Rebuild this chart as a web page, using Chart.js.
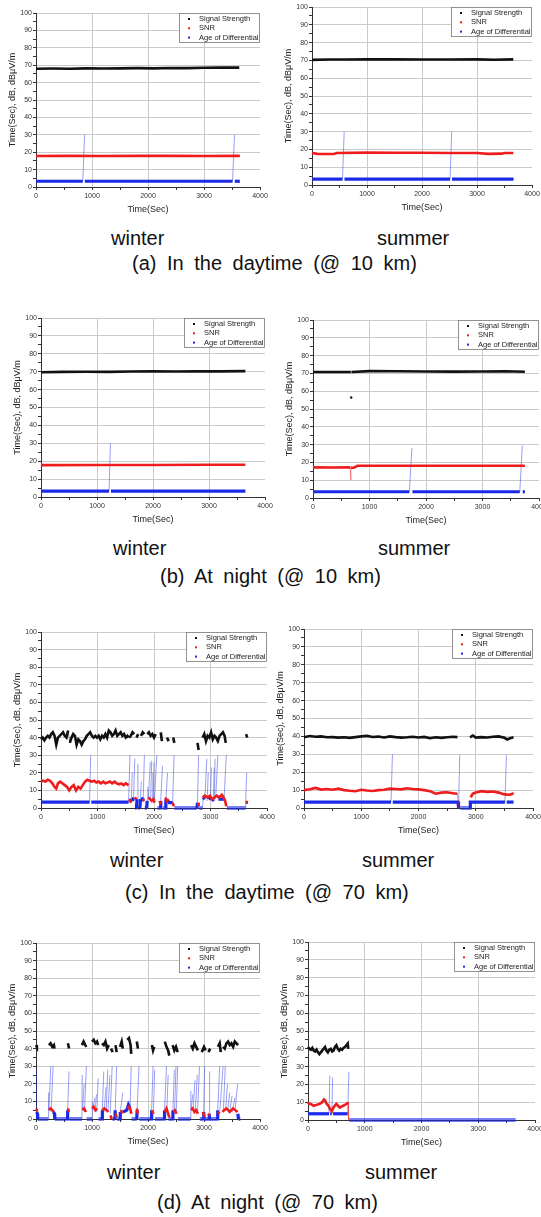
<!DOCTYPE html>
<html>
<head>
<meta charset="utf-8">
<script src="https://cdn.jsdelivr.net/npm/chart.js@4.4.1/dist/chart.umd.min.js"></script>
<style>
  html, body { margin: 0; padding: 0; background: #fff; }
  body { width: 541px; height: 1217px; position: relative; overflow: hidden; font-family: 'Liberation Sans', Arial, sans-serif; }
  canvas { position: absolute; }
  .lbl { position: absolute; font-size: 20px; line-height: 20px; white-space: nowrap; color: #111; }
  .cap { word-spacing: 5px; }
</style>
</head>
<body>
<div class="lbl" style="left:111px;top:228px">winter</div>
<div class="lbl" style="left:377px;top:228px">summer</div>
<div class="lbl cap" style="left:132px;top:253px">(a) In the daytime (@ 10 km)</div>
<div class="lbl" style="left:113px;top:538px">winter</div>
<div class="lbl" style="left:378px;top:538px">summer</div>
<div class="lbl cap" style="left:160px;top:566px">(b) At night (@ 10 km)</div>
<div class="lbl" style="left:110px;top:850px">winter</div>
<div class="lbl" style="left:362px;top:850px">summer</div>
<div class="lbl cap" style="left:125px;top:882px">(c) In the daytime (@ 70 km)</div>
<div class="lbl" style="left:107px;top:1162px">winter</div>
<div class="lbl" style="left:365px;top:1162px">summer</div>
<div class="lbl cap" style="left:157px;top:1192px">(d) At night (@ 70 km)</div>
<script>
"use strict"

var seriesNames = ['Signal Strength', 'SNR', 'Age of Differential']
var seriesColors = ['#111111', '#ee1c1c', '#1a2ae8']
var timeTicks = [0, 1000, 2000, 3000, 4000]
var levelTicks = [0, 10, 20, 30, 40, 50, 60, 70, 80, 90, 100]

// (a) daytime 10 km, winter
var aWinterSignal = [[0,68.0],[300,68.1],[600,68.0],[900,68.2],[1200,68.1],[1500,68.2],[1800,68.3],[2100,68.2],[2400,68.4],[2700,68.3],[3000,68.5],[3300,68.7],[3630,68.6]]
var aWinterSnr = [[0,17.8],[600,17.9],[1200,17.8],[1800,17.9],[2400,17.9],[3000,17.8],[3640,17.9]]
var aWinterAge = [[0,3.3],[835,3.3],[868,30],[869,null],[872,3.3],[3510,3.3],[3545,30],[3546,null],[3550,3.3],[3640,3.3]]
// (a) daytime 10 km, summer
var aSummerSignal = [[0,70.3],[300,70.5],[600,70.5],[1000,70.6],[1500,70.6],[2000,70.5],[2500,70.5],[3000,70.6],[3300,70.4],[3660,70.6]]
var aSummerSnr = [[0,18.0],[100,17.5],[400,17.4],[450,18.0],[1000,18.2],[1500,18.1],[2000,18.1],[2500,18.0],[3000,18.0],[3200,17.5],[3450,17.6],[3500,18.0],[3660,18.0]]
var aSummerAge = [[0,3.3],[555,3.3],[585,30],[586,null],[590,3.3],[2510,3.3],[2540,30],[2541,null],[2546,3.3],[3665,3.3]]
// (b) night 10 km, winter
var bWinterSignal = [[0,69.7],[400,69.9],[800,70.0],[1200,69.9],[1600,70.1],[2000,70.2],[2400,70.1],[2800,70.2],[3200,70.2],[3650,70.3]]
var bWinterSnr = [[0,17.8],[1000,17.9],[2000,17.9],[3000,18.0],[3650,18.0]]
var bWinterAge = [[0,3.3],[1215,3.3],[1240,30],[1241,null],[1250,3.3],[3650,3.3]]
// (b) night 10 km, summer
var bSummerSignal = [[0,70.8],[400,70.8],[670,70.8],[672,null],[676,56.5],[678,null],[680,70.8],[1000,71.3],[1500,71.2],[2000,71.1],[2500,71.0],[3000,71.1],[3400,71.2],[3750,70.9]]
var bSummerSnr = [[0,17.2],[300,17.1],[660,17.2],[668,10.1],[672,17.0],[720,17.0],[790,18.1],[1200,18.1],[2000,18.1],[3000,18.1],[3750,18.1]]
var bSummerAge = [[0,3.5],[1705,3.5],[1750,28],[1751,null],[1760,3.5],[3660,3.5],[3705,29.5],[3706,null],[3712,3.5],[3750,3.5]]
// (c) daytime 70 km, winter
var cWinterSignal = [[0,39],[30,40],[60,38.5],[90,40],[120,41],[150,40],[180,42],[210,43],[240,41],[270,36],[300,40],[330,41],[360,42],[390,43],[420,41],[450,40],[480,44],[510,37],[540,40],[570,42],[600,41],[630,36],[660,39],[690,38],[720,36],[750,38],[780,39],[810,41],[840,42],[870,43],[900,41],[930,40],[960,41],[990,40],[1020,41],[1050,39],[1080,41],[1110,40],[1140,42],[1170,40],[1200,44],[1230,43],[1260,41],[1290,42],[1320,44],[1350,41],[1380,42],[1410,43],[1440,41],[1470,42],[1500,40],[1530,41],[1550,40],[1551,null],
  [1560,40],[1590,41],[1620,43],[1650,42],[1660,null],[1690,40],[1720,42],[1730,null],[1770,41],[1800,43],[1830,42],[1840,null],[1880,42],[1910,43],[1940,41],[1970,42],[2000,40],[2030,42],[2050,null],[2120,43],[2140,38],[2150,null],[2230,40],[2260,38],[2270,null],[2340,40],[2360,37],[2370,null],[2770,37],[2790,33],[2800,null],[2860,40],[2890,42],[2920,38],[2950,41],[2980,40],[3010,43],[3040,39],[3070,41],[3100,40],[3130,38],[3160,41],[3190,42],[3220,43],[3250,41],[3270,37],[3280,null],[3630,42],[3650,40]]
var cWinterSnr = [[0,15],[40,15.5],[80,15],[120,16],[160,15.5],[200,14],[240,12],[270,11],[300,14],[340,15],[380,14],[420,13],[460,12],[500,10],[540,12],[580,13],[620,10],[660,12],[700,11],[740,13],[780,15],[820,16],[860,15.5],[900,15],[940,15.5],[980,14.5],[1020,15],[1060,14],[1100,15],[1140,14],[1180,14.5],[1220,15],[1260,14],[1300,15],[1340,14],[1380,13.5],[1420,14],[1460,13],[1500,14],[1550,13],[1551,null],
  [1560,5],[1580,4],[1600,3],[1610,null],[1660,6],[1690,5],[1700,null],[1800,4],[1830,5],[1840,null],[1900,6],[1930,5],[1960,4],[1990,5],[2010,3],[2020,null],[2100,4],[2120,2],[2130,null],[2200,6],[2230,4],[2260,5],[2270,null],[2330,3],[2350,1],[2360,null],[2780,3],[2790,1],[2800,null],[2860,6],[2900,7],[2950,6],[2990,7],[3030,5],[3070,6],[3110,7],[3150,6],[3200,7.5],[3230,6],[3260,4],[3280,1],[3290,null],[3630,4],[3650,3]]
var cWinterAge = [[0,3.3],[860,3.3],[880,30],[881,null],[890,3.3],[1550,3.3],[1575,30],[1576,null],[1580,4],[1600,5],[1615,20],[1616,null],[1620,4],[1640,6],[1660,28],[1661,null],[1665,0],[1690,0],[1700,5],[1715,25],[1716,null],[1720,0],[1750,0],[1760,5],[1775,15],[1776,null],[1780,4],[1810,6],[1830,30],[1831,null],[1835,0],[1870,0],[1880,4],[1890,12],[1891,null],[1900,5],[1935,26],[1936,null],[1940,4],[1960,27],[1961,null],[1965,5],[1980,20],[1981,null],[1985,4],[2000,26],[2001,null],[2005,3],[2050,30],[2051,null],[2060,0],[2110,0],[2120,4],[2150,24],[2151,null],[2160,0],[2200,0],[2210,5],[2240,20],[2241,null],[2250,4],[2270,3],[2330,3],[2355,30],[2356,null],[2360,0],[2760,0],[2770,3],[2790,30],[2791,null],[2800,0],[2860,0],[2870,6],[2900,5],[2935,28],[2936,null],[2940,4],[2960,20],[2961,null],[2965,5],[3000,6],[3015,23],[3016,null],[3020,4],[3050,5],[3065,23],[3066,null],[3070,4],[3080,28],[3081,null],[3090,5],[3130,30],[3131,null],[3140,5],[3240,5],[3280,30],[3281,null],[3290,0],[3620,0],[3625,6],[3640,20],[3641,null],[3645,3]]
// (c) daytime 70 km, summer
var cSummerSignal = [[0,39.5],[100,40.2],[200,39.8],[300,40.0],[400,39.5],[500,39.6],[600,39.3],[700,39.5],[800,39.2],[900,39.6],[1000,40.0],[1100,40.3],[1200,39.7],[1300,39.9],[1400,39.4],[1500,40.0],[1600,39.6],[1700,39.3],[1800,39.5],[1900,39.8],[2000,39.4],[2100,39.7],[2200,39.0],[2300,39.5],[2400,39.2],[2500,39.5],[2600,39.8],[2680,39.6],[2690,null],[2900,39.5],[2950,40.5],[3000,39.3],[3100,39.6],[3200,39.4],[3300,39.8],[3400,40.0],[3500,39.2],[3550,38.3],[3600,39.0],[3660,39.5]]
var cSummerSnr = [[0,10],[100,10.5],[200,11.2],[300,10.3],[400,10.6],[500,10.2],[600,10.8],[700,10.0],[800,9.6],[900,9.4],[1000,10.2],[1100,9.8],[1200,9.5],[1300,10.0],[1400,10.2],[1500,10.8],[1600,10.6],[1700,10.4],[1800,11.0],[1900,10.6],[2000,10.4],[2100,10.0],[2200,9.4],[2300,8.0],[2400,8.6],[2500,8.8],[2600,8.2],[2680,8.0],[2700,0],[2710,null],[2910,6],[2950,8],[3000,8.6],[3100,9.4],[3200,9.0],[3300,9.2],[3400,8.6],[3500,7.6],[3600,7.4],[3660,8.2]]
var cSummerAge = [[0,3.3],[1520,3.3],[1545,30],[1546,null],[1550,3.3],[2690,3.3],[2700,0],[2720,29.5],[2721,null],[2730,0],[2900,0],[2905,3.3],[3510,3.3],[3535,29.5],[3536,null],[3540,3.3],[3660,3.3]]
// (d) night 70 km, winter
var dWinterSignal = [[0,42],[15,41],[20,null],[230,42],[260,43],[290,41],[320,42],[330,40],[340,null],[570,43],[590,40],[600,null],[820,42],[850,44],[880,42],[900,41],[910,null],[1000,44],[1030,45],[1060,43],[1090,44],[1110,42],[1120,null],[1180,43],[1210,42],[1240,44],[1270,40],[1300,42],[1310,null],[1340,40],[1370,38],[1380,null],[1420,42],[1440,38],[1450,null],[1500,41],[1530,44],[1550,40],[1560,null],[1630,45],[1660,46],[1690,42],[1700,37],[1710,null],[1800,44],[1820,40],[1830,null],[2070,42],[2090,39],[2110,41],[2120,null],[2300,44],[2330,41],[2360,39],[2380,36],[2390,null],[2440,42],[2470,39],[2500,41],[2530,38],[2540,null],[2770,42],[2800,40],[2830,43],[2860,41],[2890,39],[2900,null],[2960,38],[3000,41],[3030,39],[3040,null],[3080,38],[3110,40],[3120,null],[3250,41],[3280,43],[3300,38],[3310,null],[3340,41],[3370,40],[3400,43],[3430,44],[3460,42],[3490,43],[3520,41],[3550,44],[3580,43],[3610,42],[3620,null]]
var dWinterSnr = [[0,5],[15,6],[20,null],[230,5],[260,6],[290,5],[320,4],[330,null],[570,6],[590,4],[600,null],[830,5],[860,6],[890,4],[900,null],[1000,6],[1030,7],[1060,5],[1090,6],[1100,null],[1180,5],[1220,6],[1260,5],[1290,4],[1300,null],[1330,2],[1350,0],[1360,null],[1420,3],[1440,1],[1450,null],[1520,5],[1540,3],[1550,null],[1630,6],[1660,7],[1690,5],[1700,3],[1710,null],[1800,6],[1820,3],[1830,null],[2070,5],[2100,3],[2110,null],[2300,4],[2330,6],[2360,3],[2380,1],[2390,null],[2450,4],[2480,5],[2510,3],[2520,null],[2770,5],[2800,6],[2830,4],[2860,5],[2890,3],[2900,null],[2980,4],[3010,1],[3020,null],[3080,2],[3100,3],[3110,null],[3250,4],[3280,3],[3290,null],[3330,4],[3360,5],[3400,6],[3430,5],[3460,4],[3490,5],[3520,6],[3560,5],[3600,4],[3620,null]]
var dWinterAge = [[0,3],[10,28],[11,null],[15,4],[25,3],[30,0],[220,0],[225,15],[226,null],[230,5],[265,30],[266,null],[270,4],[305,30],[306,null],[310,4],[330,3],[335,0],[560,0],[565,5],[590,27],[591,null],[595,0],[820,0],[825,25],[826,null],[830,5],[860,20],[861,null],[865,4],[900,30],[901,null],[905,0],[1000,0],[1005,10],[1006,null],[1010,5],[1050,12],[1051,null],[1055,5],[1080,14],[1081,null],[1085,4],[1110,23],[1111,null],[1115,0],[1180,0],[1185,5],[1210,27],[1211,null],[1215,4],[1250,18],[1251,null],[1255,5],[1280,28],[1281,null],[1285,4],[1320,25],[1321,null],[1325,3],[1360,30],[1361,null],[1365,0],[1410,0],[1415,5],[1440,30],[1441,null],[1445,0],[1500,0],[1505,4],[1550,15],[1551,null],[1555,4],[1620,5],[1650,8],[1680,6],[1700,30],[1701,null],[1705,0],[1800,0],[1805,5],[1840,30],[1841,null],[1845,0],[2060,0],[2065,5],[2090,30],[2091,null],[2095,4],[2120,28],[2121,null],[2125,0],[2290,0],[2295,5],[2330,30],[2331,null],[2335,4],[2360,25],[2361,null],[2365,0],[2440,0],[2445,5],[2470,28],[2471,null],[2475,5],[2500,30],[2501,null],[2505,4],[2530,30],[2531,null],[2535,0],[2760,0],[2765,16],[2766,null],[2770,5],[2800,14],[2801,null],[2805,5],[2840,22],[2841,null],[2845,5],[2880,25],[2881,null],[2885,4],[2920,30],[2921,null],[2925,0],[2990,0],[2995,4],[3010,30],[3011,null],[3015,0],[3090,0],[3095,3],[3100,27],[3101,null],[3105,0],[3240,0],[3245,5],[3280,30],[3281,null],[3285,5],[3340,30],[3341,null],[3345,4],[3380,30],[3381,null],[3385,5],[3420,20],[3421,null],[3425,5],[3460,15],[3461,null],[3465,5],[3500,13],[3501,null],[3505,4],[3550,12],[3551,null],[3555,5],[3600,20],[3601,null],[3605,3],[3615,0],[3650,0]]
// (d) night 70 km, summer
var dSummerSignal = [[0,41],[25,40],[50,39.5],[75,40.5],[100,39],[125,38.5],[150,39.5],[175,38],[200,37],[225,38],[250,39],[275,40],[300,41],[325,39],[350,38],[375,39.5],[400,40],[425,38.5],[450,39],[475,41],[500,42],[525,40],[550,39],[575,40],[600,39.5],[625,40.5],[650,41],[675,42],[700,43],[710,40]]
var dSummerSnr = [[0,10],[25,9],[50,9],[75,8.5],[100,8],[150,8.5],[200,9],[250,10],[280,11.5],[300,11],[330,9],[360,8],[390,6],[420,5],[440,6.5],[470,8],[500,9],[530,8],[560,7],[590,7.5],[620,8],[650,8.5],[680,9],[705,10],[715,0],[720,null]]
var dSummerAge = [[0,3.5],[370,3.5],[385,25],[386,null],[390,3.5],[420,3.5],[435,24],[436,null],[440,3.5],[700,3.5],[720,27],[721,null],[725,0],[3660,0]]

// plot boxes in page pixels: left, top, right, bottom
var panels = [
  { box: [36, 13, 260, 187], series: [aWinterSignal, aWinterSnr, aWinterAge] },
  { box: [312, 7, 532, 185], series: [aSummerSignal, aSummerSnr, aSummerAge] },
  { box: [41, 318, 265, 497], series: [bWinterSignal, bWinterSnr, bWinterAge] },
  { box: [313, 320, 539, 498], series: [bSummerSignal, bSummerSnr, bSummerAge] },
  { box: [41, 632, 267, 808], series: [cWinterSignal, cWinterSnr, cWinterAge] },
  { box: [304, 629, 533, 808], series: [cSummerSignal, cSummerSnr, cSummerAge] },
  { box: [36, 943, 260, 1119], series: [dWinterSignal, dWinterSnr, dWinterAge] },
  { box: [308, 942, 535, 1120], series: [dSummerSignal, dSummerSnr, dSummerAge] }
]

var FONT = "'Liberation Sans', Arial, sans-serif"
var Y_W = 30, X_H = 30, PAD_T = 6, PAD_R = 12

function toPoints(arr) {
  return arr.map(function (p) { return { x: p[0], y: p[1] } })
}

function fade(hex, a) {
  var n = parseInt(hex.slice(1), 16)
  return 'rgba(' + (n >> 16) + ',' + ((n >> 8) & 255) + ',' + (n & 255) + ',' + a + ')'
}

// inside legend box, top right of the plot
var boxLegend = {
  id: 'boxLegend',
  afterDraw: function (chart) {
    var a = chart.chartArea, c = chart.ctx
    var w = 81, h = 30, x = a.right - w, y = a.top
    c.save()
    c.fillStyle = '#fff'
    c.fillRect(x, y, w, h)
    c.strokeStyle = '#777'
    c.lineWidth = 0.8
    c.strokeRect(x + 0.5, y + 0.5, w - 1, h - 1)
    c.font = '7.5px ' + FONT
    c.textBaseline = 'middle'
    chart.data.datasets.forEach(function (ds, i) {
      var yy = y + 6 + i * 9.3
      c.fillStyle = seriesColors[i]
      c.fillRect(x + 9, yy - 1, 2, 2)
      c.fillStyle = '#222'
      c.fillText(ds.label, x + 20, yy)
    })
    c.restore()
  }
}

panels.forEach(function (p) {
  var L = p.box[0], T = p.box[1], R = p.box[2], B = p.box[3]
  var cv = document.createElement('canvas')
  var w = R - L + Y_W + PAD_R, h = B - T + PAD_T + X_H
  cv.width = w
  cv.height = h
  cv.style.left = (L - Y_W) + 'px'
  cv.style.top = (T - PAD_T) + 'px'
  cv.style.width = w + 'px'
  cv.style.height = h + 'px'
  document.body.appendChild(cv)

  var datasets = p.series.map(function (s, i) {
    var col = seriesColors[i]
    var base = i === 2 ? 3.2 : 2.6
    return {
      label: seriesNames[i],
      data: toPoints(s),
      showLine: true,
      spanGaps: false,
      clip: 4,
      borderColor: col,
      backgroundColor: col,
      borderWidth: base,
      pointRadius: function (ctx) {
        var d = ctx.dataset.data, k = ctx.dataIndex
        var prev = d[k - 1], next = d[k + 1]
        var alone = (!prev || prev.y === null) && (!next || next.y === null)
        return alone ? 1.2 : 0
      },
      pointBorderWidth: 0,
      segment: {
        borderColor: function (ctx) {
          var a = ctx.p0.parsed.y, b = ctx.p1.parsed.y
          if (Math.abs(b - a) > 5) return fade(col, 0.45)
          if (a === 0 && b === 0) return fade(col, 0.6)
          return col
        },
        borderWidth: function (ctx) {
          var a = ctx.p0.parsed.y, b = ctx.p1.parsed.y
          if (Math.abs(b - a) > 5) return 1
          if (a === 0 && b === 0) return 4
          return base
        }
      }
    }
  })

  new Chart(cv.getContext('2d'), {
    type: 'scatter',
    data: { datasets: datasets },
    plugins: [boxLegend],
    options: {
      responsive: false,
      animation: false,
      events: [],
      layout: { padding: { left: 0, top: PAD_T, right: PAD_R, bottom: 0 } },
      plugins: { legend: { display: false }, tooltip: { enabled: false } },
      scales: {
        x: {
          type: 'linear', min: 0, max: 4000,
          afterFit: function (s) { s.height = X_H },
          ticks: {
            stepSize: 500, autoSkip: false, maxRotation: 0, padding: 2,
            color: '#333', font: { size: 7, family: FONT },
            callback: function (v) { return timeTicks.indexOf(v) >= 0 ? String(v) : '' }
          },
          grid: {
            color: function (ctx) { var v = ctx.tick && ctx.tick.value; return (v > 0 && v < 4000 && v % 1000 === 0) ? '#cacaca' : 'rgba(0,0,0,0)' },
            tickColor: '#333', tickLength: 3
          },
          border: { display: true, color: '#333', width: 1, z: -1 },
          title: { display: true, text: 'Time(Sec)', color: '#222', font: { size: 9, family: FONT }, padding: { top: 0, bottom: 2 } }
        },
        y: {
          type: 'linear', min: 0, max: 100,
          afterFit: function (s) { s.width = Y_W },
          ticks: {
            stepSize: 5, autoSkip: false, padding: 1,
            color: '#333', font: { size: 7, family: FONT },
            callback: function (v) { return levelTicks.indexOf(v) >= 0 ? String(v) : '' }
          },
          grid: {
            color: function (ctx) { var v = ctx.tick && ctx.tick.value; return (v > 0 && v % 10 === 0) ? '#cacaca' : 'rgba(0,0,0,0)' },
            tickColor: '#333', tickLength: 3
          },
          border: { display: true, color: '#333', width: 1 },
          title: { display: true, text: 'Time(Sec), dB, dB\u03bcV/m', color: '#222', font: { size: 9, family: FONT }, padding: { top: 1, bottom: 0 } }
        }
      }
    }
  })
})
</script>
</body>
</html>
